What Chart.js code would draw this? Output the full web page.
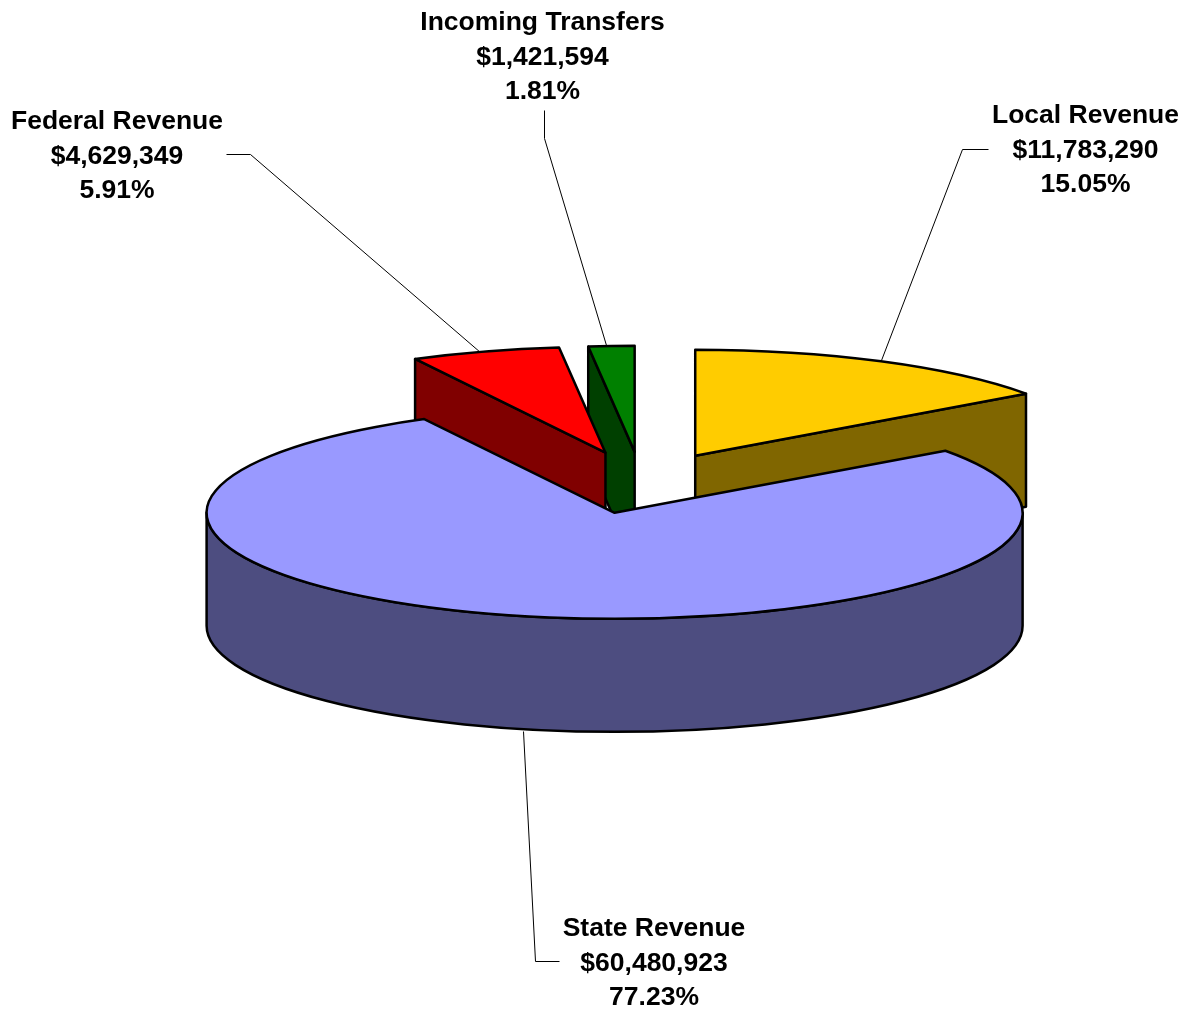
<!DOCTYPE html>
<html>
<head>
<meta charset="utf-8">
<title>Revenue</title>
<script src="https://cdn.jsdelivr.net/npm/chart.js@4"></script>
<style>
    html, body { margin: 0; padding: 0; background: #fff; }
    #box { width: 1187px; height: 1009px; }
</style>
</head>
<body>
<div id="box"><canvas id="grafico"></canvas></div>
<script>
const categorias = ["Local Revenue", "State Revenue", "Federal Revenue", "Incoming Transfers"];
const valores = [11783290, 60480923, 4629349, 1421594];
const percentuais = ["15.05%", "77.23%", "5.91%", "1.81%"];
const coresTopo = ["#FFCC00", "#9999FF", "#FF0000", "#008000"];
const coresLado = ["#806600", "#4D4D80", "#800000", "#004000"];

// pie is flattened by this factor and extruded by this many px
const achatar = 106 / 408;
const profundidade = 113;
// how far each slice is pulled out
const explosao = [118, 118, 122, 120];
// back to front
const ordemDesenho = [0, 3, 2, 1];

// label centre, first line y, leader line
const rotulos = [
    { x: 1085.5, y: 116, linha: [[988, 149], [962, 149], [881, 360]] },
    { x: 654, y: 929, linha: [[559, 961], [535, 961], [523, 731]] },
    { x: 117, y: 122, linha: [[226, 154], [250, 154], [480, 352]] },
    { x: 542.5, y: 23, linha: [[544, 110], [544, 138], [606, 345]] }
];

function geometria(arc) {
    const meio = (arc.startAngle + arc.endAngle) / 2;
    const off = arc.options.offset;
    return {
        x: arc.x + Math.cos(meio) * off,
        y: arc.y + Math.sin(meio) * off * achatar,
        r: arc.outerRadius,
        a0: arc.startAngle,
        a1: arc.endAngle
    };
}

function paredeRadial(ctx, g, ang, cor) {
    const px = g.x + g.r * Math.cos(ang);
    const py = g.y + g.r * achatar * Math.sin(ang);
    ctx.beginPath();
    ctx.moveTo(g.x, g.y);
    ctx.lineTo(px, py);
    ctx.lineTo(px, py + profundidade);
    ctx.lineTo(g.x, g.y + profundidade);
    ctx.closePath();
    ctx.fillStyle = cor;
    ctx.fill();
    ctx.stroke();
}

function paredeExterna(ctx, g, cor) {
    const ini = Math.max(g.a0, 0);
    const fim = Math.min(g.a1, Math.PI);
    if (fim <= ini) return;
    const ry = g.r * achatar;
    ctx.beginPath();
    ctx.ellipse(g.x, g.y, g.r, ry, 0, ini, fim);
    ctx.ellipse(g.x, g.y + profundidade, g.r, ry, 0, fim, ini, true);
    ctx.closePath();
    ctx.fillStyle = cor;
    ctx.fill();
    ctx.stroke();
}

function topo(ctx, g, cor) {
    ctx.beginPath();
    ctx.moveTo(g.x, g.y);
    ctx.ellipse(g.x, g.y, g.r, g.r * achatar, 0, g.a0, g.a1);
    ctx.closePath();
    ctx.fillStyle = cor;
    ctx.fill();
    ctx.stroke();
}

const pizza3d = {
    id: "pizza3d",
    beforeDatasetsDraw(chart) {
        const ctx = chart.ctx;
        const arcos = chart.getDatasetMeta(0).data;
        ctx.save();
        ctx.strokeStyle = "#000";
        ctx.lineWidth = 2.5;
        ctx.lineJoin = "round";
        ordemDesenho.forEach(i => {
            const g = geometria(arcos[i]);
            // only the cut faces turned towards the viewer
            if (Math.cos(g.a0) < -1e-6) paredeRadial(ctx, g, g.a0, coresLado[i]);
            if (Math.cos(g.a1) > 1e-6) paredeRadial(ctx, g, g.a1, coresLado[i]);
            paredeExterna(ctx, g, coresLado[i]);
            topo(ctx, g, coresTopo[i]);
        });
        ctx.restore();
        return false;
    },
    afterDraw(chart) {
        const ctx = chart.ctx;
        ctx.save();
        ctx.strokeStyle = "#000";
        ctx.lineWidth = 1;
        rotulos.forEach(r => {
            ctx.beginPath();
            r.linha.forEach((p, j) => j ? ctx.lineTo(p[0] + 0.5, p[1] + 0.5) : ctx.moveTo(p[0] + 0.5, p[1] + 0.5));
            ctx.stroke();
        });
        ctx.fillStyle = "#000";
        ctx.font = "bold 26.5px 'Liberation Sans'";
        ctx.textAlign = "center";
        ctx.textBaseline = "middle";
        categorias.forEach((nome, i) => {
            const r = rotulos[i];
            ctx.fillText(nome, r.x, r.y);
            ctx.fillText("$" + valores[i].toLocaleString("en-US"), r.x, r.y + 34.5);
            ctx.fillText(percentuais[i], r.x, r.y + 69);
        });
        ctx.restore();
    }
};

new Chart(document.getElementById("grafico"), {
    type: "pie",
    data: {
        labels: categorias,
        datasets: [{
            data: valores,
            backgroundColor: coresTopo,
            borderColor: "#000",
            borderWidth: 2,
            offset: explosao
        }]
    },
    options: {
        responsive: true,
        maintainAspectRatio: false,
        animation: false,
        radius: 408,
        layout: { padding: { left: 96, bottom: 43 } },
        events: [],
        plugins: { legend: { display: false }, tooltip: { enabled: false } }
    },
    plugins: [pizza3d]
});
</script>
</body>
</html>
